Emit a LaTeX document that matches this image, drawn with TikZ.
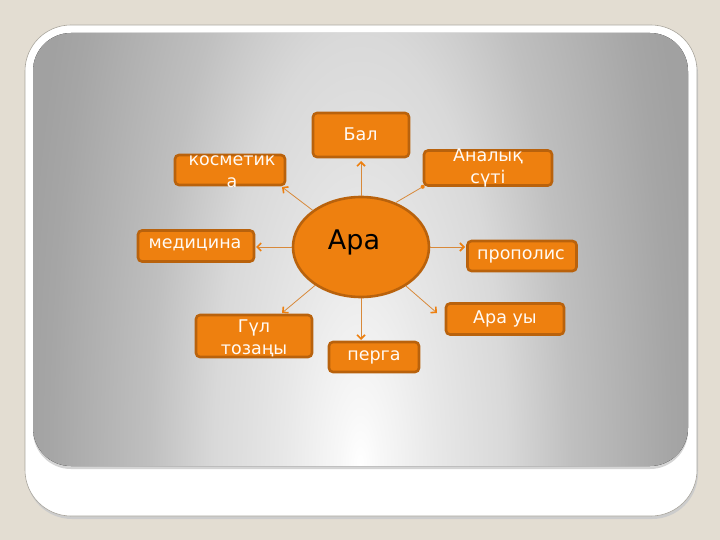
\documentclass[tikz,border=0pt]{standalone}
\usepackage{fontspec}
\setmainfont{DejaVu Sans}
\usetikzlibrary{shapes.geometric,arrows.meta}
\definecolor{bgbeige}{HTML}{E3DDD2}
\definecolor{boxfill}{HTML}{EE800F}
\definecolor{boxline}{HTML}{B9620C}
\definecolor{arrowc}{HTML}{D8893A}
\definecolor{framegray}{HTML}{A9A59C}
\pgfdeclareradialshading{panelshade}{\pgfpoint{0bp}{0bp}}{color(0bp)=(white); color(1.5bp)=(white!97!black); color(5.5bp)=(white!91!black); color(8bp)=(white!88!black); color(10.75bp)=(white!85!black); color(15.5bp)=(white!75!black); color(22.75bp)=(white!65!black); color(25bp)=(white!63!black); color(50bp)=(white!63!black)}
\tikzset{
  boxn/.style={draw=boxline, line width=2.6pt, fill=boxfill, rounded corners=4pt, inner sep=0pt},
  lbl/.style={text=white!96!orange, font=\fontsize{17.5}{22}\selectfont, align=center, inner sep=0pt},
  conn/.style={draw=arrowc, line width=0.8pt, -{Straight Barb[length=4pt,width=8pt,line width=1.6pt,color=boxfill]}},
}
\begin{document}
\begin{tikzpicture}[x=1pt,y=-1pt]
\useasboundingbox (0,0) rectangle (720,540);
\fill[bgbeige] (0,0) rectangle (720,540);
% frame shadow and frame
\fill[black!20, rounded corners=46pt] (26,28) rectangle (698,519);
\filldraw[fill=white, draw=framegray, line width=0.6pt, rounded corners=46pt] (25,25) rectangle (697,516);
% panel shadow
\fill[black!17, rounded corners=38pt] (33,36) rectangle (688,469);
% gradient panel
\begin{scope}
\clip[rounded corners=38pt] (33,33) rectangle (688,466);
\fill[shading=panelshade] (20,-534) rectangle (700,1466);
\end{scope}
% center
\node[ellipse, draw=boxline, line width=2.6pt, fill=boxfill, minimum width=136pt, minimum height=100pt, inner sep=0pt] (ara) at (361,247) {};
\node[font=\fontsize{27}{30}\selectfont, text=black, inner sep=0pt] (aralbl) at (354,242) {Ара};
% boxes
\node[boxn, minimum width=96pt, minimum height=44pt] (bal) at (361,135) {};
\node[lbl] (ballbl) at (360.5,134) {Бал};
\node[boxn, minimum width=128pt, minimum height=35pt] (anal) at (488,168) {};
\node[lbl] (anallbl) at (488,168) {Аналық\\сүті};
\node[boxn, minimum width=110pt, minimum height=30pt] (kosm) at (230,170) {};
\node[lbl] (kosmlbl) at (232,172) {косметик\\а};
\node[boxn, minimum width=116pt, minimum height=31pt] (med) at (196,246) {};
\node[lbl] (medlbl) at (195,245) {медицина};
\node[boxn, minimum width=109pt, minimum height=30pt] (prop) at (522,256) {};
\node[lbl] (proplbl) at (521,256) {прополис};
\node[boxn, minimum width=118pt, minimum height=31pt] (uy) at (505,319) {};
\node[lbl] (uylbl) at (505,319) {Ара уы};
\node[boxn, minimum width=116pt, minimum height=42pt] (gul) at (254,336) {};
\node[lbl] (gullbl) at (254,338) {Гүл\\тозаңы};
\node[boxn, minimum width=90pt, minimum height=30pt] (perga) at (374,357) {};
\node[lbl] (pergalbl) at (374,357) {перга};
% connectors
\coordinate (tBal) at (361,161);
\coordinate (tPerga) at (361,340);
\draw[conn] (ara.north) -- (tBal);
\draw[conn] (ara.south) -- (tPerga);
\draw[draw=arrowc, line width=0.8pt] (ara.52) -- (anal.south west);
\fill[boxfill] (anal.south west) circle (2pt);
\coordinate (tKosm) at (282,187);
\draw[conn] (ara) -- (tKosm);
\coordinate (tMed) at (256,247);
\draw[conn] (ara.west) -- (tMed);
\coordinate (tProp) at (465,247);
\draw[conn] (ara.east) -- (tProp);
\coordinate (tUy) at (437,313);
\draw[conn] (ara) -- (tUy);
\coordinate (tGul) at (282,313);
\draw[conn] (ara) -- (tGul);
\end{tikzpicture}
\end{document}
